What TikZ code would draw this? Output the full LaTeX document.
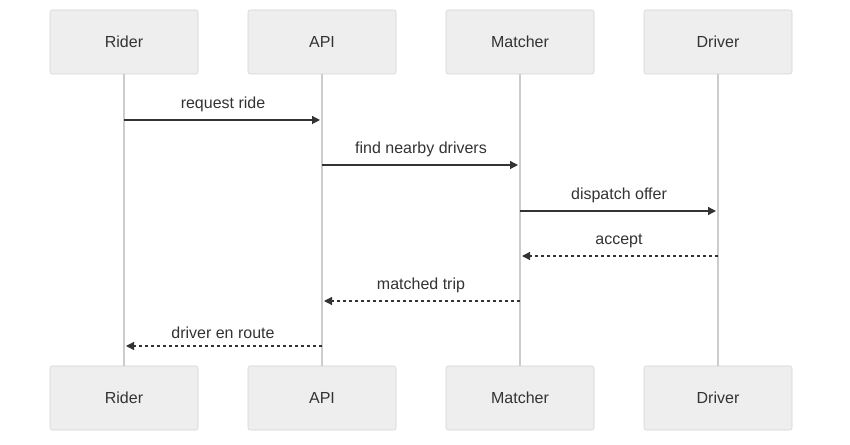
\documentclass[tikz,border=0pt]{standalone}
\usepackage{fontspec}
\setmainfont{Liberation Sans}
\usetikzlibrary{arrows.meta}
\definecolor{boxfill}{HTML}{EEEEEE}
\definecolor{boxline}{HTML}{D4D4D4}
\definecolor{life}{HTML}{CCCCCC}
\definecolor{ink}{HTML}{333333}
\begin{document}
\begin{tikzpicture}[x=0.75pt,y=-0.75pt,
  actor/.style={draw=boxline,fill=boxfill,minimum width=111pt,minimum height=48pt,inner sep=0pt,rounded corners=1.5pt,font=\fontsize{12pt}{14pt}\selectfont,text=ink},
  lifeline/.style={draw=life,line width=1.1pt},
  msg/.style={draw=ink,line width=0.9pt,shorten >=1.5pt,-{Triangle[length=6pt,width=6pt]}},
  reply/.style={msg,dash pattern=on 2.5pt off 2pt},
  lbl/.style={font=\fontsize{12pt}{14pt}\selectfont,text=ink,above=2pt}]
\useasboundingbox (0,0) rectangle (850,445);
\foreach \n/\t/\x in {r/Rider/124,a/API/322,m/Matcher/520,d/Driver/718}{
  \node[actor] (\n t) at (\x,42) {\t};
  \node[actor] (\n b) at (\x,398) {\t};
  \draw[lifeline] (\n t.south) -- (\n b.north);
  \coordinate (\n1) at (\x,120);
  \coordinate (\n2) at (\x,165);
  \coordinate (\n3) at (\x,211);
  \coordinate (\n4) at (\x,256);
  \coordinate (\n5) at (\x,301);
  \coordinate (\n6) at (\x,346);
}
\draw[msg] (r1) -- node[lbl]{request ride} (a1);
\draw[msg] (a2) -- node[lbl]{find nearby drivers} (m2);
\draw[msg] (m3) -- node[lbl]{dispatch offer} (d3);
\draw[reply] (d4) -- node[lbl]{accept} (m4);
\draw[reply] (m5) -- node[lbl]{matched trip} (a5);
\draw[reply] (a6) -- node[lbl]{driver en route} (r6);
\end{tikzpicture}
\end{document}
